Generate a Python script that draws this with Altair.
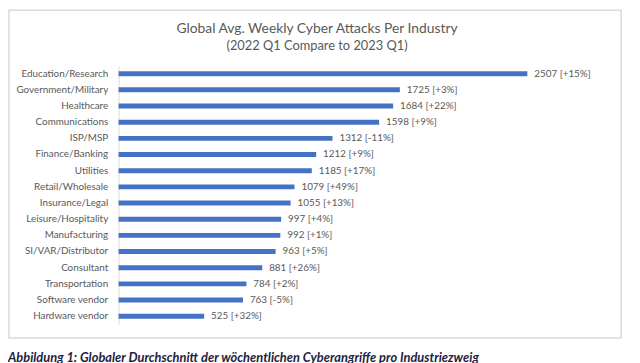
import altair as alt
import pandas as pd

industries = [
    "Education/Research", "Government/Military", "Healthcare", "Communications",
    "ISP/MSP", "Finance/Banking", "Utilities", "Retail/Wholesale",
    "Insurance/Legal", "Leisure/Hospitality", "Manufacturing", "SI/VAR/Distributor",
    "Consultant", "Transportation", "Software vendor", "Hardware vendor",
]
attacks = [2507, 1725, 1684, 1598, 1312, 1212, 1185, 1079, 1055, 997, 992, 963, 881, 784, 763, 525]
changes = ["+15%", "+3%", "+22%", "+9%", "-11%", "+9%", "+17%", "+49%",
           "+13%", "+4%", "+1%", "+5%", "+26%", "+2%", "-5%", "+32%"]

title_text = "Global Avg. Weekly Cyber Attacks Per Industry"
subtitle_text = "(2022 Q1 Compare to 2023 Q1)"
caption_text = "Abbildung 1: Globaler Durchschnitt der wöchentlichen Cyberangriffe pro Industriezweig"

df = pd.DataFrame({"industry": industries, "attacks": attacks, "change": changes})
df["label"] = df["attacks"].astype(str) + " [" + df["change"] + "]"

GRAY = "#595959"
FONT = "Lato"

y = alt.Y("industry:N", sort=industries, title=None,
          axis=alt.Axis(labelFont=FONT, labelFontSize=10, labelColor=GRAY, ticks=False,
                        domainColor="#d9d9d9", domainWidth=1, labelPadding=11, labelLimit=200))
x = alt.X("attacks:Q", scale=alt.Scale(domain=[0, 2507], nice=False, zero=True), axis=None)

base = alt.Chart(df)
bars = base.mark_bar(size=5, color="#4472C4").encode(x=x, y=y)
labels = base.mark_text(align="left", baseline="middle", dx=7, font=FONT, fontSize=10,
                        color=GRAY).encode(x=x, y=y, text="label:N")

one = pd.DataFrame({"k": [0]})
box = alt.Chart(one).mark_rect(fillOpacity=0, stroke="#d9d9d9", strokeWidth=1.5).encode(
    x=alt.value(-111), x2=alt.value(509), y=alt.value(-56), y2=alt.value(276))
title = alt.Chart(one).mark_text(align="center", baseline="middle", font=FONT, fontSize=14,
                                 color=GRAY).encode(
    x=alt.value(201), y=alt.value(-37), text=alt.value(title_text))
subtitle = alt.Chart(one).mark_text(align="center", baseline="middle", font=FONT, fontSize=13,
                                    color=GRAY).encode(
    x=alt.value(201), y=alt.value(-20), text=alt.value(subtitle_text))
caption = alt.Chart(one).mark_text(align="left", baseline="alphabetic", font=FONT, fontSize=13,
                                   fontWeight="bold", fontStyle="italic", color="#1f2240").encode(
    x=alt.value(-112), y=alt.value(300), text=alt.value(caption_text))

chart = alt.layer(box, bars, labels, title, subtitle, caption).properties(
    width=414, height=262,
    padding={"left": 112, "top": 56, "right": 106, "bottom": 45},
    autosize=alt.AutoSizeParams(type="none"),
    background="white",
).configure_view(stroke=None)

chart.save("out.html", embed_options={"renderer": "svg", "actions": False})
